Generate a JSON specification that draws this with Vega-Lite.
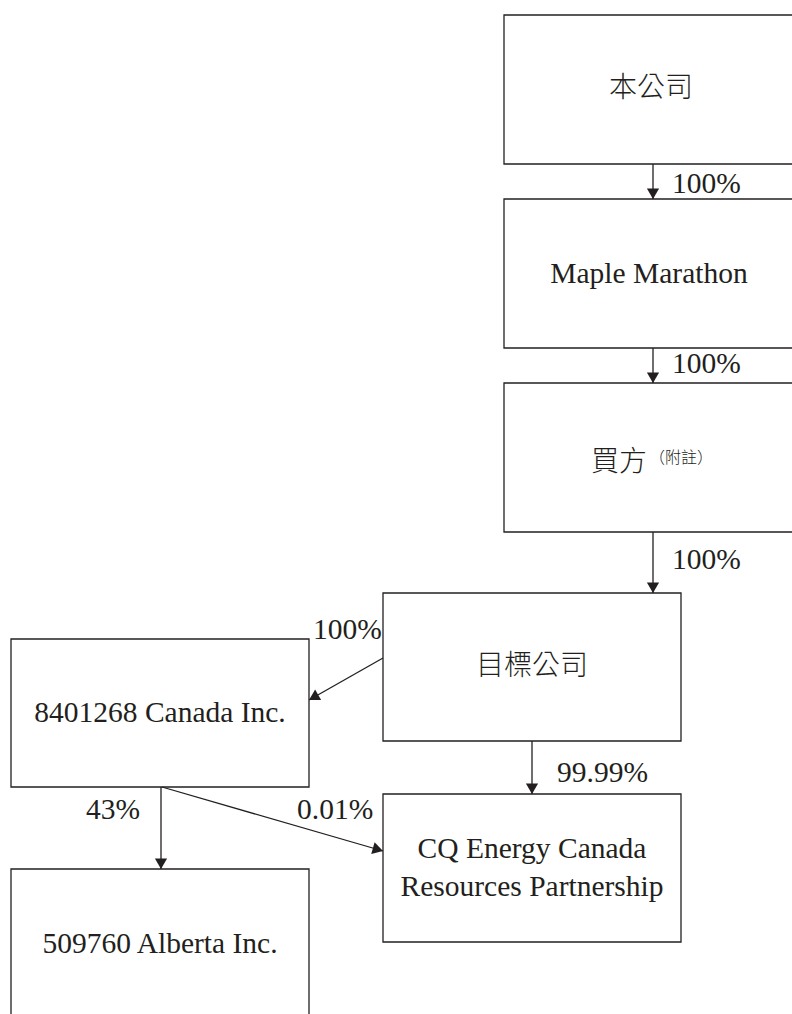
{
  "$schema": "https://vega.github.io/schema/vega-lite/v6.json",
  "width": 792,
  "height": 1014,
  "autosize": {"type": "fit", "contains": "padding"},
  "padding": 0,
  "background": "white",
  "config": {"view": {"stroke": null}},
  "datasets": {
    "boxes": [
      {"name": "本公司", "x": 504, "x2": 800, "y": 15, "y2": 164},
      {"name": "Maple Marathon", "x": 504, "x2": 800, "y": 199, "y2": 348},
      {"name": "買方", "x": 504, "x2": 800, "y": 383, "y2": 532},
      {"name": "目標公司", "x": 383, "x2": 681, "y": 593, "y2": 741},
      {"name": "8401268 Canada Inc.", "x": 11, "x2": 309, "y": 639, "y2": 787},
      {"name": "CQ Energy Canada Resources Partnership", "x": 383, "x2": 681, "y": 794, "y2": 942},
      {"name": "509760 Alberta Inc.", "x": 11, "x2": 309, "y": 869, "y2": 1020}
    ],
    "edges": [
      {"x": 653, "y": 164, "x2": 653, "y2": 199, "label": "100%"},
      {"x": 653, "y": 348, "x2": 653, "y2": 383, "label": "100%"},
      {"x": 653, "y": 532, "x2": 653, "y2": 593, "label": "100%"},
      {"x": 383, "y": 658, "x2": 309, "y2": 700, "label": "100%"},
      {"x": 532, "y": 741, "x2": 532, "y2": 794, "label": "99.99%"},
      {"x": 161, "y": 787, "x2": 161, "y2": 869, "label": "43%"},
      {"x": 162, "y": 787, "x2": 383, "y2": 851, "label": "0.01%"}
    ],
    "edgeLabels": [
      {"text": "100%", "x": 672, "y": 193},
      {"text": "100%", "x": 672, "y": 373},
      {"text": "100%", "x": 672, "y": 569},
      {"text": "100%", "x": 313, "y": 639},
      {"text": "99.99%", "x": 557, "y": 782},
      {"text": "43%", "x": 86, "y": 819},
      {"text": "0.01%", "x": 297, "y": 819}
    ],
    "cjkNames": [
      {"text": "本公司", "x": 651, "y": 89},
      {"text": "目標公司", "x": 532, "y": 667}
    ],
    "buyer": [
      {"text": "買方", "x": 647, "y": 463}
    ],
    "note": [
      {"text": "（附註）", "x": 649, "y": 458}
    ],
    "latinNames": [
      {"text": "Maple Marathon", "x": 649, "y": 283},
      {"text": "8401268 Canada Inc.", "x": 160, "y": 722},
      {"text": "CQ Energy Canada\nResources Partnership", "x": 532, "y": 858},
      {"text": "509760 Alberta Inc.", "x": 160, "y": 953}
    ]
  },
  "layer": [
    {
      "data": {"name": "boxes"},
      "mark": {"type": "rect", "clip": true, "fill": "white", "stroke": "#231f20", "strokeWidth": 1.3},
      "encoding": {
        "x": {"field": "x", "type": "quantitative", "scale": {"domain": [0, 792], "nice": false, "zero": false}, "axis": null},
        "x2": {"field": "x2"},
        "y": {"field": "y", "type": "quantitative", "scale": {"domain": [0, 1014], "nice": false, "zero": false, "reverse": true}, "axis": null},
        "y2": {"field": "y2"}
      }
    },
    {
      "data": {"name": "edges"},
      "mark": {"type": "rule", "stroke": "#231f20", "strokeWidth": 1.3},
      "encoding": {
        "x": {"field": "x", "type": "quantitative", "axis": null},
        "x2": {"field": "x2"},
        "y": {"field": "y", "type": "quantitative", "axis": null},
        "y2": {"field": "y2"}
      }
    },
    {
      "data": {"name": "edges"},
      "transform": [
        {"calculate": "atan2(datum.x - datum.x2, datum.y2 - datum.y) * 180 / PI", "as": "angle"}
      ],
      "mark": {"type": "point", "shape": "M0,0L-0.58,-1L0.58,-1Z", "filled": true, "fill": "#231f20", "strokeWidth": 0, "size": 441, "opacity": 1},
      "encoding": {
        "x": {"field": "x2", "type": "quantitative", "axis": null},
        "y": {"field": "y2", "type": "quantitative", "axis": null},
        "angle": {"field": "angle", "type": "quantitative", "scale": null}
      }
    },
    {
      "data": {"name": "edgeLabels"},
      "mark": {"type": "text", "font": "Liberation Serif", "fontSize": 29.5, "align": "left", "baseline": "alphabetic", "fill": "#231f20"},
      "encoding": {
        "x": {"field": "x", "type": "quantitative", "axis": null},
        "y": {"field": "y", "type": "quantitative", "axis": null},
        "text": {"field": "text"}
      }
    },
    {
      "data": {"name": "cjkNames"},
      "mark": {"type": "text", "font": "Noto Sans CJK TC", "fontSize": 28, "fontWeight": 300, "align": "center", "baseline": "middle", "fill": "#231f20"},
      "encoding": {
        "x": {"field": "x", "type": "quantitative", "axis": null},
        "y": {"field": "y", "type": "quantitative", "axis": null},
        "text": {"field": "text"}
      }
    },
    {
      "data": {"name": "buyer"},
      "mark": {"type": "text", "font": "Noto Sans CJK TC", "fontSize": 28, "fontWeight": 300, "align": "right", "baseline": "middle", "fill": "#231f20"},
      "encoding": {
        "x": {"field": "x", "type": "quantitative", "axis": null},
        "y": {"field": "y", "type": "quantitative", "axis": null},
        "text": {"field": "text"}
      }
    },
    {
      "data": {"name": "note"},
      "mark": {"type": "text", "font": "Noto Sans CJK TC", "fontSize": 16, "fontWeight": 300, "align": "left", "baseline": "middle", "fill": "#231f20"},
      "encoding": {
        "x": {"field": "x", "type": "quantitative", "axis": null},
        "y": {"field": "y", "type": "quantitative", "axis": null},
        "text": {"field": "text"}
      }
    },
    {
      "data": {"name": "latinNames"},
      "mark": {"type": "text", "font": "Liberation Serif", "fontSize": 29.5, "align": "center", "baseline": "alphabetic", "lineBreak": "\n", "lineHeight": 38, "fill": "#231f20"},
      "encoding": {
        "x": {"field": "x", "type": "quantitative", "axis": null},
        "y": {"field": "y", "type": "quantitative", "axis": null},
        "text": {"field": "text"}
      }
    }
  ]
}
